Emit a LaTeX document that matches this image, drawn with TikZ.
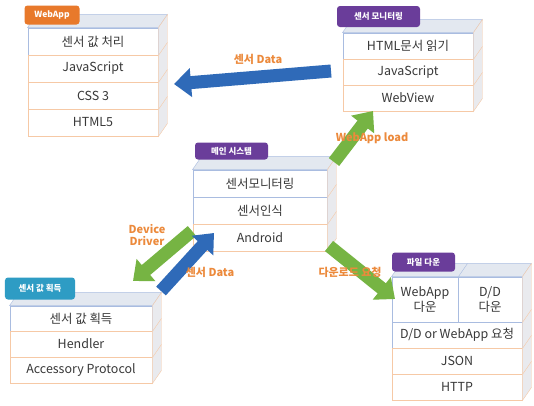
\documentclass[tikz,border=0pt]{standalone}
\usepackage{fontspec}
\setmainfont{Noto Sans CJK KR}
\usetikzlibrary{arrows.meta}
\definecolor{tabpurple}{HTML}{6A3D9A}
\definecolor{taborange}{HTML}{E8792B}
\definecolor{tabteal}{HTML}{2E9CC4}
\definecolor{rowblue}{HTML}{A9BCE0}
\definecolor{rowpeach}{HTML}{F6C9A6}
\definecolor{topface}{HTML}{E3E8F0}
\definecolor{sideface}{HTML}{E9EAEE}
\definecolor{flowblue}{HTML}{2F6AB8}
\definecolor{flowgreen}{HTML}{76B443}
\definecolor{labelorange}{HTML}{EC8A3C}

% top and right faces of a stack: first row (west), first row (east), last row
\newcommand\stackfaces[3]{%
  \filldraw[fill=topface,draw=rowblue] (#1.north west) -- ++(9,-13) -- ([shift={(9,-13)}]#2.north east) -- (#2.north east) -- cycle;
  \filldraw[fill=sideface,draw=rowpeach] (#2.north east) -- ++(9,-13) -- ([shift={(9,-13)}]#3.south east) -- (#3.south east) -- cycle;}

\begin{document}
\begin{tikzpicture}[x=1bp,y=-1bp,>=Stealth,every node/.style={font=\fontsize{12.5}{15}\selectfont,text=black!78}]
\tikzset{
  layer/.style={draw=rowpeach,fill=white,line width=0.9pt,rectangle,inner sep=0pt,minimum width=130bp,minimum height=27bp},
  toplayer/.style={layer,draw=rowblue},
  tab/.style={rectangle,rounded corners=3pt,fill=#1,text=white,inner sep=0pt,minimum height=19bp,font=\fontsize{8.5}{10}\selectfont\bfseries},
  flow/.style={-{Triangle[width=28bp,length=17bp]},line width=13bp,draw=#1},
  flowlabel/.style={text=labelorange,font=\fontsize{11}{12.5}\selectfont\bfseries,inner sep=1pt}
}
\path[use as bounding box,fill=white] (0,0) rectangle (534,405);

% WebApp
\node[toplayer] (wa1) at (93,41.5) {센서 값 처리};
\node[layer] (wa2) at (93,68.5) {JavaScript};
\node[layer] (wa3) at (93,95.5) {CSS 3};
\node[layer] (wa4) at (93,122.5) {HTML5};
\stackfaces{wa1}{wa1}{wa4}
\foreach \r in {wa1,wa2,wa3} \draw[rowpeach] (\r.south east) -- ++(9,-13);
\node[tab=taborange,minimum width=55bp] (waTab) at (52,15) {WebApp};

% sensor monitoring
\node[toplayer,minimum height=26bp] (sm1) at (408,46) {HTML문서 읽기};
\node[layer,minimum height=26bp] (sm2) at (408,72) {JavaScript};
\node[layer,minimum height=26bp] (sm3) at (408,98) {WebView};
\stackfaces{sm1}{sm1}{sm3}
\foreach \r in {sm1,sm2} \draw[rowpeach] (\r.south east) -- ++(9,-13);
\node[tab=tabpurple,minimum width=83bp,minimum height=21bp] (smTab) at (378.5,16.5) {센서 모니터링};

% main system
\node[toplayer,minimum width=134bp] (mn1) at (260,183.5) {센서모니터링};
\node[toplayer,minimum width=134bp] (mn2) at (260,210.5) {센서인식};
\node[layer,minimum width=134bp] (mn3) at (260,237.5) {Android};
\stackfaces{mn1}{mn1}{mn3}
\foreach \r in {mn1,mn2} \draw[rowpeach] (\r.south east) -- ++(9,-13);
\node[tab=tabpurple,minimum width=73bp,minimum height=17bp] (mnTab) at (231.5,151) {메인 시스템};

% sensor value
\node[toplayer,minimum width=142bp,minimum height=25bp] (sv1) at (81,318.5) {센서 값 획득};
\node[layer,minimum width=142bp,minimum height=26bp] (sv2) at (81,344) {Hendler};
\node[layer,minimum width=142bp,minimum height=26bp] (sv3) at (81,370) {Accessory Protocol};
\stackfaces{sv1}{sv1}{sv3}
\foreach \r in {sv1,sv2} \draw[rowpeach] (\r.south east) -- ++(9,-13);
\node[tab=tabteal,minimum width=70bp,minimum height=22bp] (svTab) at (40,288.5) {센서 값 획득};

% file download
\node[toplayer,minimum width=66bp,minimum height=45bp,align=center] (fd1) at (425,299.5) {WebApp\\다운};
\node[toplayer,minimum width=64bp,minimum height=45bp,align=center] (fd2) at (490,299.5) {D/D\\다운};
\node[toplayer,minimum height=26bp] (fd3) at (457,335) {D/D or WebApp 요청};
\node[layer,minimum height=26bp] (fd4) at (457,361) {JSON};
\node[layer,minimum height=26bp] (fd5) at (457,387) {HTTP};
\stackfaces{fd1}{fd2}{fd5}
\draw[rowblue] (fd1.north east) -- ++(9,-13);
\foreach \r in {fd2,fd3,fd4} \draw[rowpeach] (\r.south east) -- ++(9,-13);
\node[tab=tabpurple,minimum width=63bp] (fdTab) at (423.5,262) {파일 다운};

% flows
\coordinate (dataTail) at (331,71);
\coordinate (dataTip) at (174,84);
\coordinate (loadTail) at (334,162);
\coordinate (loadTip) at (373,111);
\coordinate (driverTail) at (192,231);
\coordinate (driverTip) at (133,281);
\coordinate (sensTail) at (161,291);
\coordinate (sensTip) at (214,233);
\coordinate (downTail) at (329,246);
\coordinate (downTip) at (395,299);

\draw[flow=flowblue] (dataTail) -- (dataTip);
\draw[flow=flowgreen] (loadTail) -- (loadTip);
\draw[flow=flowgreen] (driverTail) -- (driverTip);
\draw[flow=flowblue] (sensTail) -- (sensTip);
\draw[flow=flowgreen] (downTail) -- (downTip);

\node[flowlabel] (dataLbl) at (258,59) {센서 Data};
\node[flowlabel] (loadLbl) at (372,138) {WebApp load};
\node[flowlabel,align=center] (driverLbl) at (147,235) {Device\\Driver};
\node[flowlabel] (sensLbl) at (210,272) {센서 Data};
\node[flowlabel] (downLbl) at (350,272) {다운로드 요청};
\end{tikzpicture}
\end{document}
